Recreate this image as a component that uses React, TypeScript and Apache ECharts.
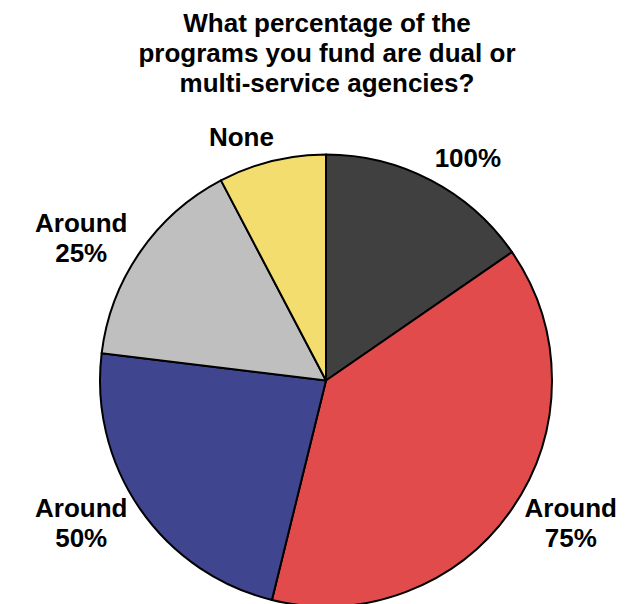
import React, { useEffect, useRef } from "react";
import * as echarts from "echarts";

const TITLE_LINES = [
  "What percentage of the",
  "programs you fund are dual or",
  "multi-service agencies?",
];
const categories = ["100%", "Around 75%", "Around 50%", "Around 25%", "None"];
const counts = [2, 5, 3, 2, 1];
const colors = ["#404040", "#e24b4c", "#3f468f", "#bfbfbf", "#f2dd6e"];

const FONT = "'Liberation Sans', Arial, Helvetica, sans-serif";

export default function App() {
  const ref = useRef<HTMLDivElement>(null);
  useEffect(() => {
    document.body.style.margin = "0";
    const chart = echarts.init(ref.current!, null, { renderer: "svg" });
    chart.setOption({
      animation: false,
      backgroundColor: "#ffffff",
      title: {
        text: TITLE_LINES.join("\n"),
        left: 327,
        top: 8,
        padding: 0,
        textAlign: "center",
        textStyle: {
          fontFamily: FONT,
          fontSize: 26,
          fontWeight: "bold",
          lineHeight: 30,
          color: "#000000",
        },
      },
      series: [
        {
          type: "pie",
          center: [326, 380.5],
          radius: 226,
          startAngle: 90,
          clockwise: true,
          avoidLabelOverlap: false,
          itemStyle: { borderColor: "#000000", borderWidth: 2 },
          label: {
            show: true,
            position: "outer",
            distanceToLabelLine: 0,
            formatter: (p: any) =>
              String(p.name)
                .split(" ")
                .map((s: string) => `{c|${s}}`)
                .join("\n"),
            rich: {
              c: {
                align: "center",
                fontFamily: FONT,
                fontSize: 26,
                fontWeight: "bold",
                lineHeight: 30,
                color: "#000000",
              },
            },
          },
          labelLine: { show: false, length: 25, length2: -8 },
          emphasis: { disabled: true },
          data: categories.map((name, i) => ({
            name,
            value: counts[i],
            itemStyle: { color: colors[i] },
          })),
        },
      ],
    });
    return () => chart.dispose();
  }, []);
  return <div ref={ref} style={{ width: 630, height: 604 }} />;
}
